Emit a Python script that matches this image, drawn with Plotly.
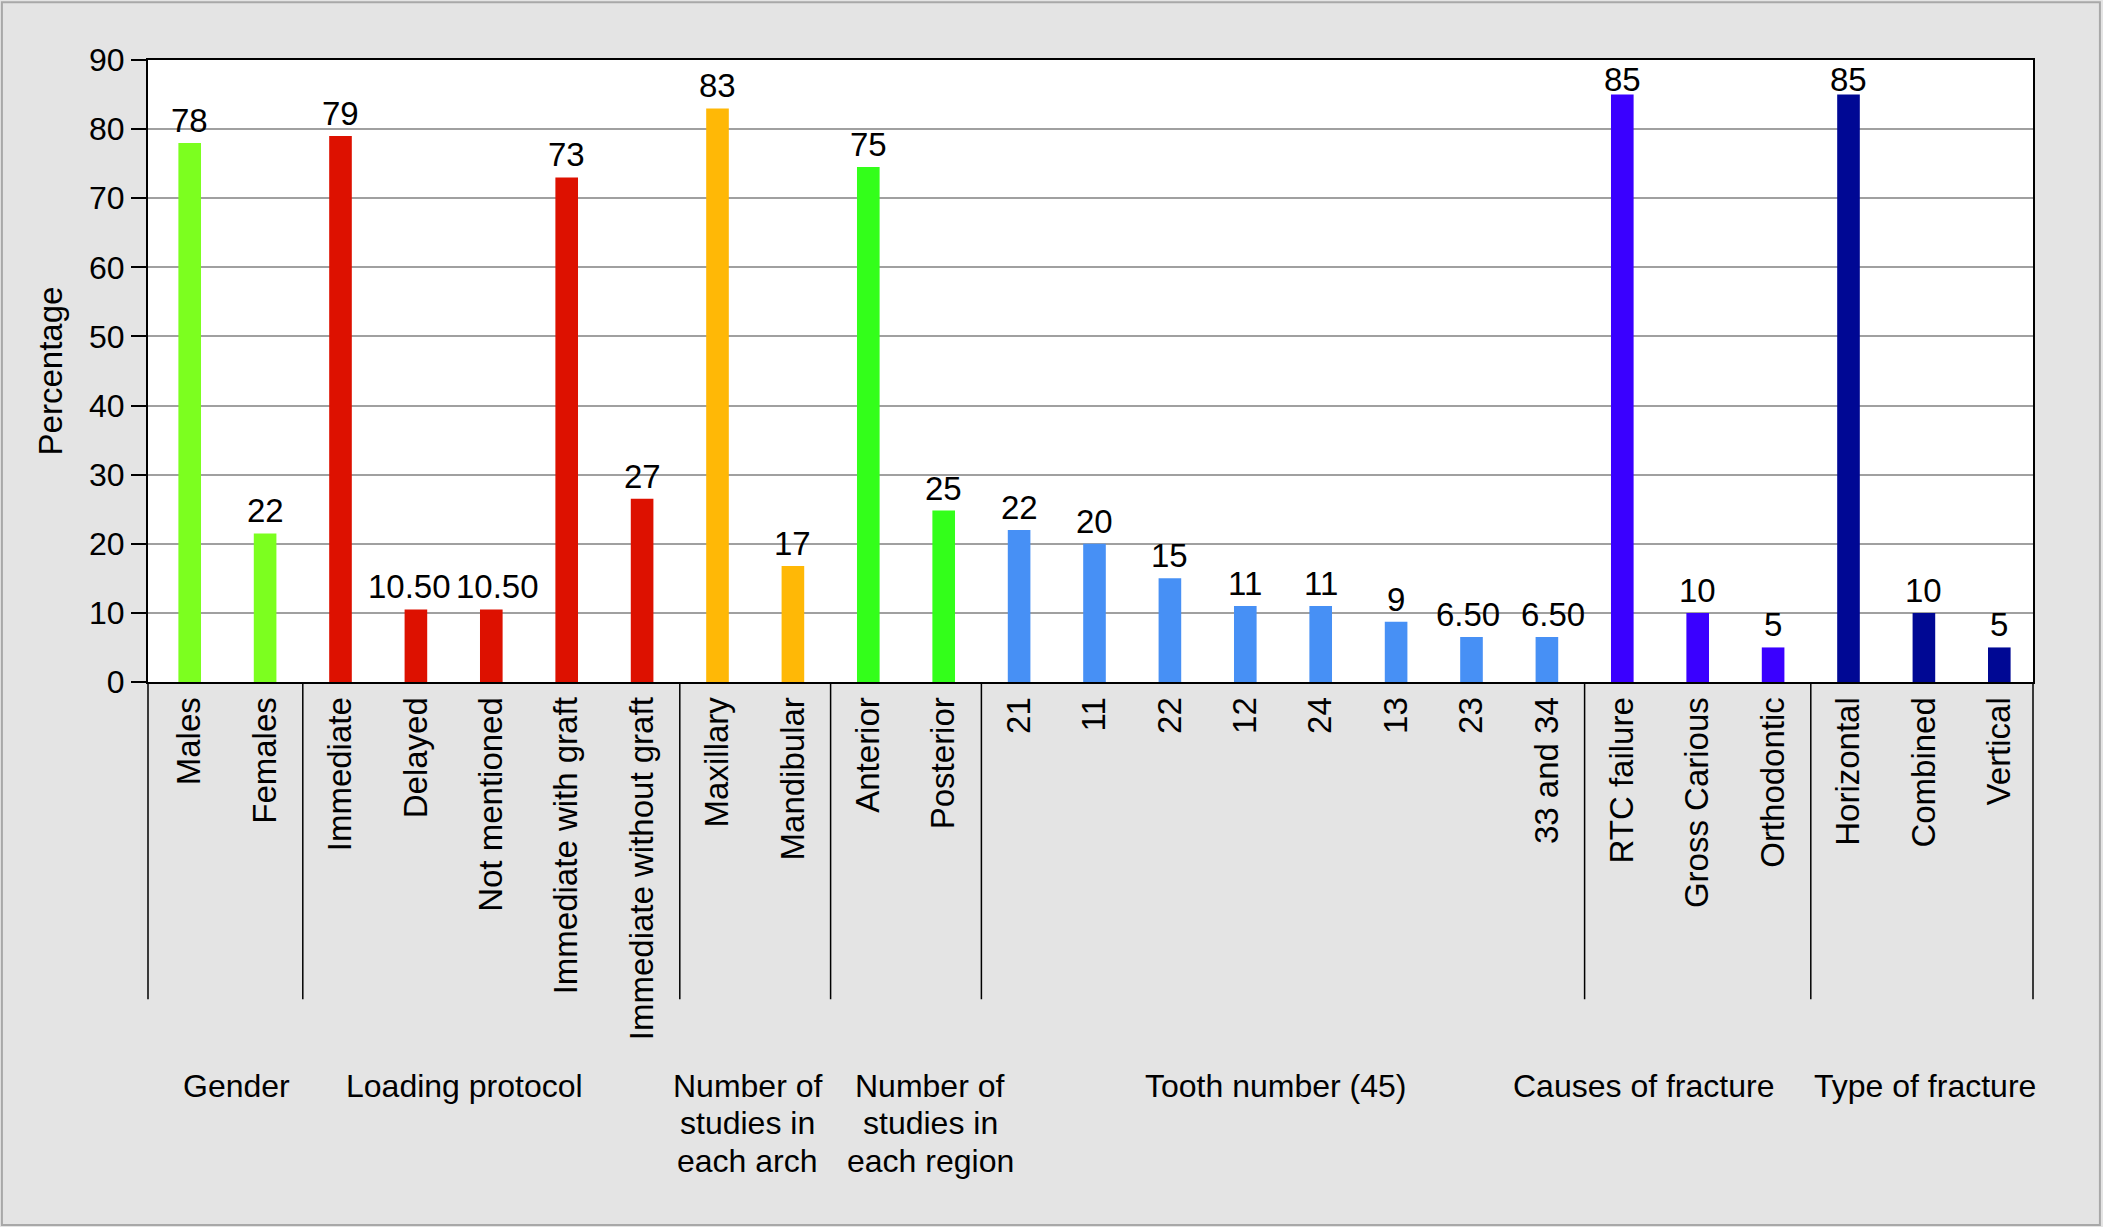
import plotly.graph_objects as go

# categories, in the order they appear along the x axis
categories = ["Males", "Females",
              "Immediate", "Delayed", "Not mentioned", "Immediate with graft", "Immediate without graft",
              "Maxillary", "Mandibular",
              "Anterior", "Posterior",
              "21", "11", "22", "12", "24", "13", "23", "33 and 34",
              "RTC failure", "Gross Carious", "Orthodontic",
              "Horizontal", "Combined", "Vertical"]
# bar heights as drawn, and the printed value labels
values = [78, 21.5, 79, 10.5, 10.5, 73, 26.5, 83, 16.8, 74.5, 24.8,
          22, 20, 15, 11, 11, 8.7, 6.5, 6.5, 85, 10, 5, 85, 10, 5]
value_labels = ["78", "22", "79", "10.50", "10.50", "73", "27", "83", "17", "75", "25",
                "22", "20", "15", "11", "11", "9", "6.50", "6.50", "85", "10", "5", "85", "10", "5"]
# groups: name lines, number of bars, colour
groups = [["Gender"], ["Loading protocol"], ["Number of", "studies in", "each arch"],
          ["Number of", "studies in", "each region"], ["Tooth number (45)"],
          ["Causes of fracture"], ["Type of fracture"]]
group_sizes = [2, 5, 2, 2, 8, 3, 3]
group_colors = ["#7cff1f", "#dd1100", "#ffb806", "#33ff1a", "#4790f5", "#3a00ff", "#000894"]
group_label_pos = [0.62, 3.65, 7.4, 9.82, 14.4, 19.28, 23.02]

colors = []
for c, n in zip(group_colors, group_sizes):
    colors += [c] * n

FONT = "Liberation Sans, Arial, sans-serif"
SHIFT = 0.053  # the categories sit a few px right of the frame in the original

fig = go.Figure()
fig.add_trace(go.Bar(
    x=categories, y=values, marker=dict(color=colors, line=dict(width=0)),
))

# value labels over the bars; the crowded neighbours get pushed apart a little,
# and the two tallest ones are kept inside the frame
nudge_x = {3: -6, 4: 6, 17: -4, 18: 6}
nudge_y = {19: -5, 22: -5}
for i, (v, lab) in enumerate(zip(values, value_labels)):
    # numeric position: some category names look like numbers
    fig.add_annotation(x=i, y=v, xref="x", yref="y", text=lab, showarrow=False,
                       yanchor="bottom", xshift=nudge_x.get(i, 0), yshift=nudge_y.get(i, 2),
                       font=dict(size=33, color="black", family=FONT))

# separators between groups, under the axis (outer ones on the frame edges)
edges = [-0.5]
for n in group_sizes:
    edges.append(edges[-1] + n)
for j, e in enumerate(edges):
    if j == 0 or j == len(edges) - 1:
        xr, xv = "paper", (0 if j == 0 else 1)
    else:
        xr, xv = "x", e
    fig.add_shape(type="line", xref=xr, yref="paper", x0=xv, x1=xv, y0=0, y1=-0.51,
                  line=dict(color="black", width=1.5))

for lines, pos in zip(groups, group_label_pos):
    for k, line in enumerate(lines):
        fig.add_annotation(x=pos, y=-0.6495, xref="x", yref="paper", text=line, showarrow=False,
                           yanchor="middle", xanchor="center", yshift=-37.5 * k,
                           font=dict(size=32, color="black",
                                     family="Liberation Sans Narrow, Arial Narrow, Liberation Sans, sans-serif"))

# thin grey frame round the whole picture
fig.add_shape(type="rect", xref="paper", yref="paper", x0=-0.0775, x1=1.0355, y0=-0.873, y1=1.093,
              line=dict(color="#a8a8a8", width=2), layer="below")

fig.update_layout(
    width=2103, height=1227,
    margin=dict(l=148, r=70, t=60, b=545),
    paper_bgcolor="#e4e4e4", plot_bgcolor="white",
    bargap=0.7, showlegend=False,
    font=dict(family=FONT, color="black"),
)
fig.update_xaxes(
    type="category", tickangle=-90, tickfont=dict(size=33), ticks="",
    ticklabelstandoff=0, showline=True, linecolor="black", linewidth=2,
    mirror=True, showgrid=False, range=[-0.5 - SHIFT, 24.5 - SHIFT], automargin=False,
)
fig.update_yaxes(
    range=[0, 90], dtick=10, tickfont=dict(size=32), ticks="outside", ticklen=15,
    tickwidth=2, tickcolor="black", showline=True, linecolor="black", linewidth=2, mirror=True,
    gridcolor="#a0a0a0", gridwidth=2, automargin=False,
    title=dict(text="Percentage", font=dict(size=33), standoff=16),
)

# the page's default body margin would push the figure off its place
fig.write_html("out.html", config={"displayModeBar": False},
               post_script="document.body.style.margin='0';")
